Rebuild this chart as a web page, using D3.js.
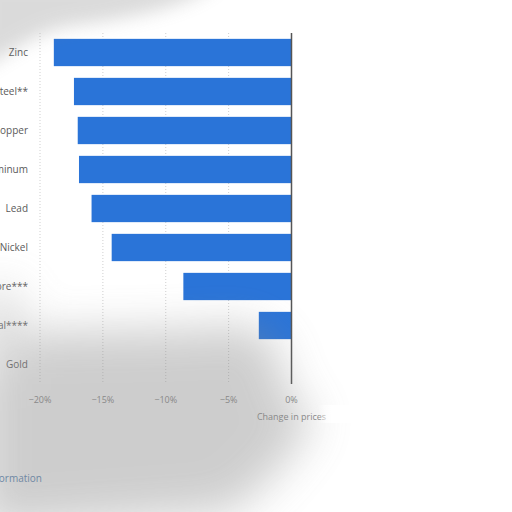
<!DOCTYPE html>
<html>
<head>
<meta charset="utf-8">
<script src="https://cdn.jsdelivr.net/npm/d3@7"></script>
<style>
  body { margin: 0; background: #fff; }
  svg { display: block; font-family: "Open Sans", "DejaVu Sans", sans-serif; }
</style>
</head>
<body>
<div id="vis"></div>
<script>
// Data
const metals = ["Zinc", "Steel**", "Copper", "Aluminum", "Lead", "Nickel", "Iron ore***", "Coal****", "Gold"]
const change = [-18.9, -17.3, -17.0, -16.9, -15.9, -14.3, -8.6, -2.6, 0]
const xTicks = [-20, -15, -10, -5, 0]

const margin = {left: 40, top: 33, right: 220.5, bottom: 128}
const width = 512 - margin.left - margin.right
const height = 512 - margin.top - margin.bottom

const svg = d3.select("#vis")
    .append("svg")
    .attr("width", 512)
    .attr("height", 512)

const defs = svg.append("defs")
defs.append("filter").attr("id", "blur")
    .attr("filterUnits", "userSpaceOnUse")
    .attr("x", -100).attr("y", -100).attr("width", 712).attr("height", 712)
    .append("feGaussianBlur").attr("stdDeviation", 22)
defs.append("filter").attr("id", "blurSmall")
    .attr("filterUnits", "userSpaceOnUse")
    .attr("x", -100).attr("y", -100).attr("width", 712).attr("height", 712)
    .append("feGaussianBlur").attr("stdDeviation", 9)

const g = svg.append("g")
    .attr("transform", `translate(${margin.left},${margin.top})`)

const x = d3.scaleLinear()
    .domain([-20, 0])
    .range([0, width])

const y = d3.scaleBand()
    .domain(metals)
    .range([0, height])
    .paddingInner(0.3)
    .paddingOuter(0.15)

// grid lines
g.selectAll(".grid")
    .data(xTicks.filter(d => d !== 0))
    .enter()
    .append("line")
    .attr("x1", d => x(d))
    .attr("x2", d => x(d))
    .attr("y1", 0)
    .attr("y2", height)
    .style("stroke", "#cfcfcf")
    .style("stroke-width", 1)
    .style("stroke-dasharray", "1,2")

// bars
g.selectAll(".bar")
    .data(metals)
    .enter()
    .append("rect")
    .attr("x", (d, i) => x(change[i]))
    .attr("y", d => y(d))
    .attr("width", (d, i) => x(0) - x(change[i]))
    .attr("height", y.bandwidth())
    .style("fill", "#2a74d8")

// zero line
g.append("line")
    .attr("x1", x(0)).attr("x2", x(0))
    .attr("y1", 0).attr("y2", height)
    .style("stroke", "#555")
    .style("stroke-width", 1.5)

// category labels
g.selectAll(".cat")
    .data(metals)
    .enter()
    .append("text")
    .attr("x", -12)
    .attr("y", d => y(d) + y.bandwidth() / 2)
    .attr("dy", "0.35em")
    .attr("text-anchor", "end")
    .style("font-size", "10px")
    .style("fill", "#5a5a5a")
    .text(d => d)

// x tick labels
g.selectAll(".tick")
    .data(xTicks)
    .enter()
    .append("text")
    .attr("x", d => x(d))
    .attr("y", height + 19)
    .attr("text-anchor", "middle")
    .style("font-size", "9px")
    .style("fill", "#888")
    .text(d => d === 0 ? "0%" : "\u2212" + Math.abs(d) + "%")

g.append("text")
    .attr("x", x(0))
    .attr("y", height + 36)
    .attr("text-anchor", "middle")
    .style("font-size", "9px")
    .style("fill", "#888")
    .text("Change in prices")

svg.append("text")
    .attr("x", 42)
    .attr("y", 482)
    .attr("text-anchor", "end")
    .style("font-size", "10px")
    .style("fill", "#5a86b4")
    .text("Additional Information")

// smudge overlay
const smudge = svg.append("g").attr("filter", "url(#blur)").style("opacity", 0.42)
smudge.append("path")
    .attr("d", "M-20,340 C60,325 150,335 240,325 C275,330 285,360 285,395 C310,405 320,420 300,440 C280,470 260,490 230,512 L-20,530 Z")
    .style("fill", "#8a8a8a")
smudge.append("rect")
    .attr("x", -20).attr("y", 290).attr("width", 40).attr("height", 80)
    .style("fill", "#aaa")

const shadow = svg.append("g").attr("filter", "url(#blurSmall)").style("opacity", 0.3)
shadow.append("path")
    .attr("d", "M-20,-20 L220,-20 C190,8 130,18 70,26 C45,30 25,42 -20,70 Z")
    .style("fill", "#888")

// fade of the axis title on the right
const fade = defs.append("linearGradient").attr("id", "fade")
fade.append("stop").attr("offset", "0%").attr("stop-color", "#fff").attr("stop-opacity", 0)
fade.append("stop").attr("offset", "100%").attr("stop-color", "#fff").attr("stop-opacity", 1)
svg.append("rect")
    .attr("x", 318).attr("y", 405).attr("width", 14).attr("height", 18)
    .style("fill", "url(#fade)")
svg.append("rect")
    .attr("x", 332).attr("y", 405).attr("width", 40).attr("height", 18)
    .style("fill", "#fff")
</script>
</body>
</html>
